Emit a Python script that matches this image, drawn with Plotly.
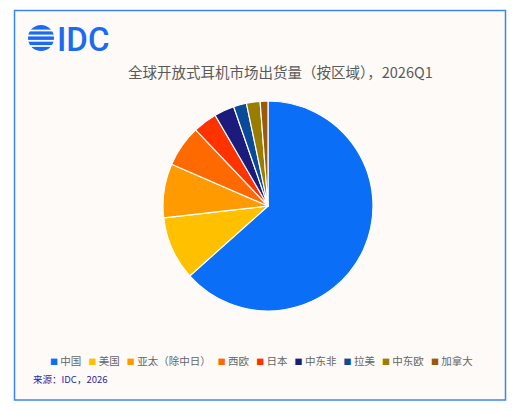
"""
IDC open-ear headphone shipments by region, 2026Q1 - pie chart
"""

import plotly.graph_objects as go

# Data (share of shipments, %)
regions = ['中国', '美国', '亚太（除中日）', '西欧', '日本', '中东非', '拉美', '中东欧', '加拿大']
shares = [63.4, 9.8, 8.3, 6.4, 3.7, 3.1, 2.0, 2.1, 1.2]
colors = ['#0A6EF7', '#FFC000', '#FF9A00', '#FF6A00', '#FF3300',
          '#1C1A7A', '#0A4A9A', '#9A7D00', '#9A5A0A']

TITLE = '全球开放式耳机市场出货量（按区域），2026Q1'
SOURCE = '来源：IDC，2026'

# the page body keeps its default 8px margin, so the figure is shrunk to fit
OFF = 8
W, H = 517 - OFF, 410 - OFF
CJK = 'Noto Sans CJK SC, sans-serif'
BG = '#FDFAF8'


def px_x(x):
    return (x - OFF) / W


def px_y(y):
    return 1 - (y - OFF) / H


fig = go.Figure(go.Pie(
    labels=regions,
    values=shares,
    sort=False,
    direction='clockwise',
    rotation=0,
    textinfo='none',
    marker=dict(colors=colors, line=dict(color='#FFFFFF', width=1.2)),
    domain=dict(x=[px_x(163), px_x(373)], y=[px_y(311), px_y(101)]),
    showlegend=False,
    hovertemplate='%{label}: %{value}%<extra></extra>',
))

shapes = [
    # framed card
    dict(type='rect', xref='paper', yref='paper',
         x0=px_x(14.5), x1=px_x(505.5), y0=px_y(400), y1=px_y(10.5),
         line=dict(color='#3A86F2', width=1.5), fillcolor=BG, layer='below'),
    # logo globe
    dict(type='circle', xref='paper', yref='paper',
         x0=px_x(28), x1=px_x(54), y0=px_y(51), y1=px_y(25),
         line=dict(width=0), fillcolor='#1A6BF2'),
]
for gy in [30.5, 35.5, 40.8, 46]:
    shapes.append(dict(type='line', xref='paper', yref='paper',
                       x0=px_x(26), x1=px_x(56), y0=px_y(gy), y1=px_y(gy),
                       line=dict(color=BG, width=1.8)))

# legend built as one line of rich text
sep = '\u00a0' * 3
legend_text = sep.join(
    f'<span style="color:{c};font-size:8px">■</span>\u00a0{r}'
    for r, c in zip(regions, colors)
)

annotations = [
    dict(text='IDC', x=px_x(55), y=px_y(39.5), xref='paper', yref='paper',
         xanchor='left', yanchor='middle', showarrow=False,
         font=dict(family='Roboto, Arial, sans-serif', size=33, color='#1A6BF2',
                   weight=500)),
    dict(text=TITLE, x=px_x(280), y=px_y(71), xref='paper', yref='paper',
         xanchor='center', yanchor='middle', showarrow=False,
         font=dict(family=CJK, size=14.5, color='#5A5A5A')),
    dict(text=legend_text, x=px_x(261), y=px_y(360), xref='paper', yref='paper',
         xanchor='center', yanchor='middle', showarrow=False,
         font=dict(family=CJK, size=10.5, color='#666666')),
    dict(text=SOURCE, x=px_x(31), y=px_y(379), xref='paper', yref='paper',
         xanchor='left', yanchor='middle', showarrow=False,
         font=dict(family=CJK, size=9.5, color='#2E1E9E')),
]

fig.update_layout(
    width=W, height=H,
    margin=dict(l=0, r=0, t=0, b=0),
    paper_bgcolor='#FFFFFF',
    plot_bgcolor='#FFFFFF',
    shapes=shapes,
    annotations=annotations,
)

fig.write_html('out.html')
